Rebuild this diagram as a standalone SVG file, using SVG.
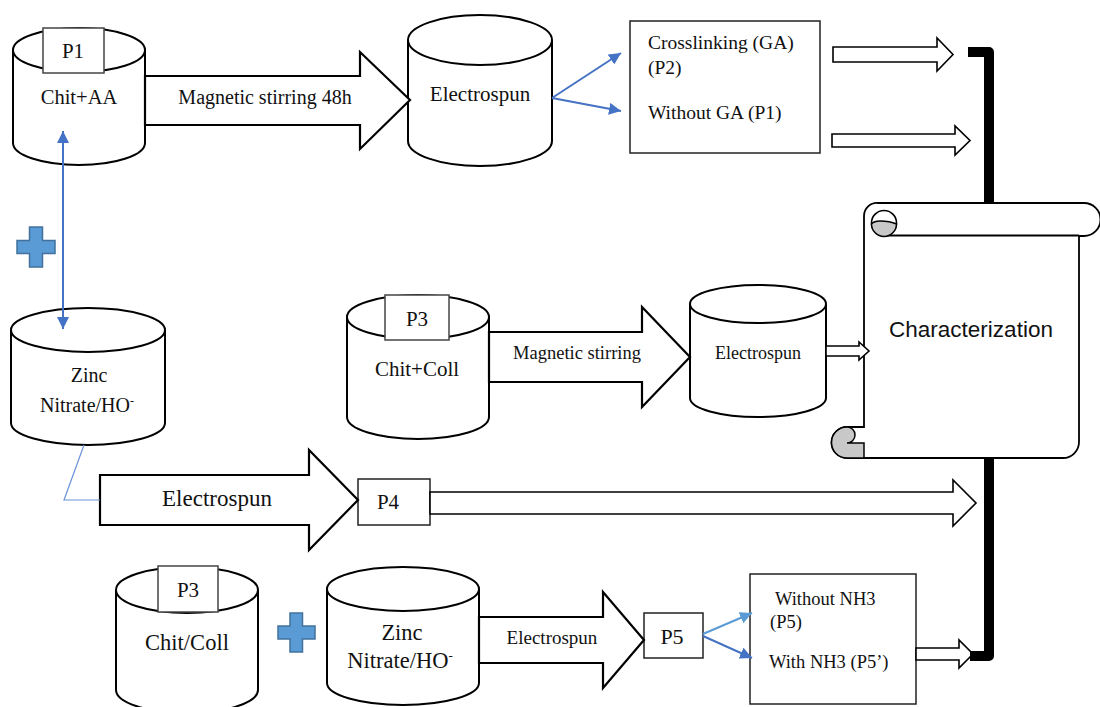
<svg xmlns="http://www.w3.org/2000/svg" width="1100" height="707" viewBox="0 0 1100 707">
<style>
.cyl{fill:#fff;stroke:#000;stroke-width:2}
.lbl{fill:#fff;stroke:#444;stroke-width:1.5}
.box{fill:#fff;stroke:#222;stroke-width:1.5}
.big{fill:#fff;stroke:#000;stroke-width:2.2;stroke-linejoin:miter}
.hol{fill:#fff;stroke:#000;stroke-width:1.6}
.t{font-family:"Liberation Serif","Times New Roman",serif;fill:#111}
.m{text-anchor:middle}
.blue{stroke:#4472c4;stroke-width:2;fill:none}
.plus{fill:#5b9bd5;stroke:#41719c;stroke-width:1.5}
.brk{fill:none;stroke:#000;stroke-width:10;stroke-linejoin:round}
</style>
<defs>
<marker id="ah" viewBox="0 0 10 10" refX="10" refY="5" markerWidth="6" markerHeight="6" orient="auto-start-reverse" markerUnits="strokeWidth">
<path d="M0,0 L10,5 L0,10 z" fill="#4472c4"/>
</marker>
<marker id="ah2" viewBox="0 0 10 10" refX="10" refY="5" markerWidth="6" markerHeight="6" orient="auto" markerUnits="strokeWidth">
<path d="M0,0 L10,5 L0,10 z" fill="#5b9bd5"/>
</marker>
</defs>

<g id="chit-aa">
<path class="cyl" d="M13,50 V143 A66,22 0 0 0 145,143 V50"/>
<ellipse class="cyl" cx="79" cy="50" rx="66" ry="22"/>
<rect class="lbl" x="43" y="28" width="61" height="45"/>
<text class="t m" x="73" y="58" font-size="21">P1</text>
<text class="t m" x="79" y="104" font-size="20.5">Chit+AA</text>
</g>

<g id="electrospun-1">
<path class="cyl" d="M408,40 V141 A72,25 0 0 0 552,141 V40"/>
<ellipse class="cyl" cx="480" cy="40" rx="72" ry="25"/>
<text class="t m" x="480" y="101" font-size="21">Electrospun</text>
</g>

<g id="crosslink-box">
<rect class="box" x="630" y="21" width="190" height="132"/>
<text class="t" x="648" y="49" font-size="19.5">Crosslinking (GA)</text>
<text class="t" x="648" y="74" font-size="19.5">(P2)</text>
<text class="t" x="648" y="119" font-size="19.5">Without GA (P1)</text>
</g>

<g id="plus-1">
<path class="plus" d="M29.5,227 H42.5 V240.5 H55 V253.5 H42.5 V267 H29.5 V253.5 H17 V240.5 H29.5 Z"/>
</g>

<g id="zinc-1">
<path class="cyl" d="M11,330 V423 A77,22 0 0 0 165,423 V330"/>
<ellipse class="cyl" cx="88" cy="330" rx="77" ry="22"/>
<text class="t m" x="89" y="382" font-size="20">Zinc</text>
<text class="t m" x="87" y="412" font-size="20">Nitrate/HO<tspan dy="-7" font-size="12">-</tspan></text>
</g>

<g id="chit-coll">
<path class="cyl" d="M347,317 V417 A71,22 0 0 0 489,417 V317"/>
<ellipse class="cyl" cx="418" cy="317" rx="71" ry="22"/>
<rect class="lbl" x="385" y="295" width="64" height="45"/>
<text class="t m" x="417" y="326" font-size="21">P3</text>
<text class="t m" x="417" y="376" font-size="21">Chit+Coll</text>
</g>

<g id="electrospun-2">
<path class="cyl" d="M690,304 V398 A68,19 0 0 0 826,398 V304"/>
<ellipse class="cyl" cx="758" cy="304" rx="68" ry="19"/>
<text class="t m" x="758" y="359" font-size="18">Electrospun</text>
</g>

<g id="characterization">
<path d="M878,203 H1084 A16.5,16.5 0 0 1 1084,236 H1079 V442 A16,16 0 0 1 1063,458 H847 A15.5,15.5 0 0 1 847,427 H864 V216 A13,13 0 0 1 878,203 Z" fill="#fff" stroke="#000" stroke-width="1.8"/>
<path d="M884,235.5 H1079" stroke="#000" stroke-width="1.8"/>
<circle cx="884" cy="223" r="12.5" fill="#fff" stroke="#000" stroke-width="1.6"/>
<path d="M871.5,224 A12.5,12.5 0 0 0 896.5,224 Q890,221 880,221 Q874,221 871.5,224 Z" fill="#c8c8c8" stroke="#000" stroke-width="1.5"/>
<path d="M847,427 A15.5,15.5 0 0 0 847,458 H864 V443 H847 A8,8 0 0 0 847,427 Z" fill="#c8c8c8" stroke="#000" stroke-width="1.5"/>
<text x="971" y="337" font-size="22.5" text-anchor="middle" font-family="Liberation Sans, Arial, sans-serif" fill="#111">Characterization</text>
</g>

<g id="p4">
<rect class="box" x="358" y="479" width="72" height="46"/>
<text class="t m" x="388" y="509" font-size="21">P4</text>
</g>

<g id="chit-coll-2">
<path class="cyl" d="M116,590 V690 A71,23 0 0 0 258,690 V590"/>
<ellipse class="cyl" cx="187" cy="590" rx="71" ry="23"/>
<rect class="lbl" x="158" y="566" width="60" height="46"/>
<text class="t m" x="188" y="597" font-size="21">P3</text>
<text class="t m" x="187" y="650" font-size="22.5">Chit/Coll</text>
</g>

<g id="plus-2">
<path class="plus" d="M290,613 H302.5 V626 H315 V639 H302.5 V652 H290 V639 H278 V626 H290 Z"/>
</g>

<g id="zinc-2">
<path class="cyl" d="M327,589 V683 A76,22 0 0 0 479,683 V589"/>
<ellipse class="cyl" cx="403" cy="589" rx="76" ry="22"/>
<text class="t m" x="402" y="640" font-size="22.5">Zinc</text>
<text class="t m" x="400" y="668" font-size="22.5">Nitrate/HO<tspan dy="-8" font-size="13">-</tspan></text>
</g>

<g id="p5">
<rect class="box" x="644" y="613" width="59" height="45"/>
<text class="t m" x="672" y="644" font-size="22">P5</text>
</g>

<g id="nh3-box">
<rect class="box" x="750" y="574" width="166" height="130"/>
<text class="t" x="775" y="605" font-size="18.5">Without NH3</text>
<text class="t" x="770" y="628" font-size="18.5">(P5)</text>
<text class="t" x="769" y="668" font-size="18.5">With NH3 (P5’)</text>
</g>

<g id="connectors">
<polygon class="big" points="145,76 360,76 360,52 410,100 360,149 360,125 145,125"/>
<polygon class="big" points="489,332 642,332 642,307 690,357 642,407 642,382 489,382"/>
<polygon class="big" points="100,475 309,475 309,450 358,500 309,550 309,525 100,525"/>
<polygon class="hol" points="430,492 953,492 953,480 976,503 953,526 953,514 430,514"/>
<polygon class="big" points="479,617 603,617 603,592 644,640 603,688 603,663 479,663"/>
<polygon class="hol" points="833,47 937,47 937,38 953,54.5 937,71 937,62 833,62"/>
<polygon class="hol" points="832,134 955,134 955,126 970,140.5 955,155 955,147 832,147"/>
<polygon class="hol" points="826,346 859,346 859,342 869,351 859,360 859,356 826,356"/>
<polygon class="hol" points="916,648 959,648 959,640 973,654 959,668 959,660 916,660"/>
<path class="blue" d="M552,98 L621,53" marker-end="url(#ah)"/>
<path class="blue" d="M552,98 L621,111" marker-end="url(#ah)"/>
<path class="blue" d="M63,131 V329" marker-start="url(#ah)" marker-end="url(#ah)"/>
<polyline points="84,445 64,500 100,500" fill="none" stroke="#6a93d8" stroke-width="1.2"/>
<path d="M703,634 L752,613" stroke="#5b9bd5" stroke-width="2" fill="none" marker-end="url(#ah2)"/>
<path class="blue" d="M703,636 L752,658" marker-end="url(#ah)"/>
<path class="brk" d="M968,52 H989 V203"/>
<path class="brk" d="M989,458 V656 H970"/>
<text class="t m" x="265" y="104" font-size="20">Magnetic stirring 48h</text>
<text class="t m" x="577" y="359" font-size="18.5">Magnetic stirring</text>
<text class="t m" x="217" y="506" font-size="23">Electrospun</text>
<text class="t m" x="552" y="644" font-size="19">Electrospun</text>
</g>
</svg>
